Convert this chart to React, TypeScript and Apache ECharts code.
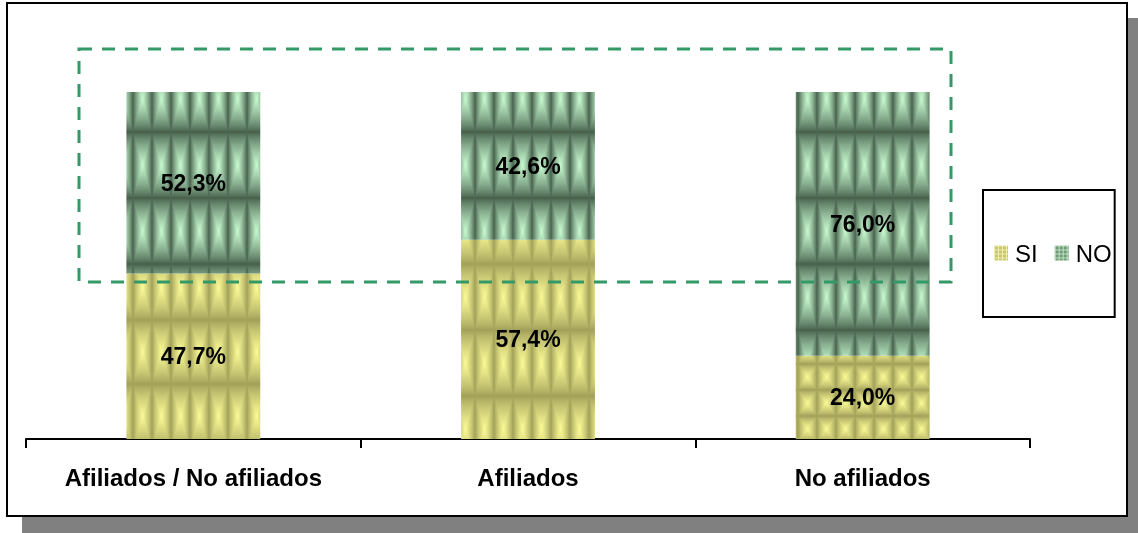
import React, { useEffect, useRef } from "react";
import * as echarts from "echarts";

const categories = ["Afiliados / No afiliados", "Afiliados", "No afiliados"];
const siValues = [47.7, 57.4, 24.0];
const noValues = [52.3, 42.6, 76.0];
const siCellHeights = [64, 66, 26];
const noCellHeights = [66, 66, 66];

type RGB = [number, number, number];

function makeBevel(w: number, h: number, dark: RGB, light: RGB): HTMLCanvasElement {
  const c = document.createElement("canvas");
  c.width = w;
  c.height = h;
  const ctx = c.getContext("2d")!;
  const img = ctx.createImageData(w, h);
  for (let y = 0; y < h; y++) {
    for (let x = 0; x < w; x++) {
      const dx = Math.min(x + 0.5, w - x - 0.5) / (w / 2);
      const dy = Math.min(y + 0.5, h - y - 0.5) / (h / 2);
      let t = Math.min(dx, dy);
      t = Math.pow(t, 0.8);
      const i = (y * w + x) * 4;
      img.data[i] = dark[0] + (light[0] - dark[0]) * t;
      img.data[i + 1] = dark[1] + (light[1] - dark[1]) * t;
      img.data[i + 2] = dark[2] + (light[2] - dark[2]) * t;
      img.data[i + 3] = 255;
    }
  }
  ctx.putImageData(img, 0, 0);
  return c;
}

function makeGrid(base: string, line: string): HTMLCanvasElement {
  const c = document.createElement("canvas");
  c.width = 4;
  c.height = 4;
  const ctx = c.getContext("2d")!;
  ctx.fillStyle = base;
  ctx.fillRect(0, 0, 4, 4);
  ctx.fillStyle = line;
  ctx.fillRect(0, 0, 4, 1);
  ctx.fillRect(0, 0, 1, 4);
  return c;
}

function pattern(canvas: HTMLCanvasElement) {
  return { image: canvas, repeat: "repeat", imageWidth: canvas.width, imageHeight: canvas.height } as any;
}

const SI_DARK: RGB = [160, 158, 88];
const SI_LIGHT: RGB = [250, 250, 150];
const NO_DARK: RGB = [68, 94, 74];
const NO_LIGHT: RGB = [200, 250, 208];
const FONT = "Liberation Sans, Arial, sans-serif";

export default function App() {
  const ref = useRef<HTMLDivElement>(null);
  useEffect(() => {
    if (!ref.current) return;
    const chart = echarts.init(ref.current, null, { renderer: "svg" });
    const fmt = (p: any) => Number(p.value).toFixed(1).replace(".", ",") + "%";
    const siLegend = pattern(makeGrid("#c8c66e", "#efeeb0"));
    const noLegend = pattern(makeGrid("#6e9a74", "#bfe2c6"));
    const labelStyle = {
      show: true,
      position: "inside",
      formatter: fmt,
      color: "#000",
      fontSize: 23,
      fontWeight: "bold",
      fontFamily: FONT,
    };
    chart.setOption({
      animation: false,
      graphic: [
        { type: "rect", z: -10, silent: true, shape: { x: 22, y: 18, width: 1116, height: 515 }, style: { fill: "#808080" } },
        { type: "rect", z: -9, silent: true, shape: { x: 7, y: 3, width: 1120, height: 513 }, style: { fill: "#fff", stroke: "#000", lineWidth: 2 } },
        {
          type: "rect",
          z: 100,
          silent: true,
          shape: { x: 79, y: 49, width: 872, height: 233 },
          style: { fill: "none", stroke: "#339966", lineWidth: 3, lineDash: [13, 10] },
        },
      ],
      legend: {
        left: 983,
        top: 190,
        orient: "horizontal",
        backgroundColor: "#fff",
        borderColor: "#000",
        borderWidth: 2,
        borderRadius: 0,
        padding: [51, 3, 52, 11],
        itemWidth: 14,
        itemHeight: 15,
        itemGap: 17,
        textStyle: { fontSize: 24, color: "#000", fontFamily: FONT, padding: [0, 0, 0, 2] },
        data: [
          { name: "SI", icon: "rect", itemStyle: { color: siLegend } },
          { name: "NO", icon: "rect", itemStyle: { color: noLegend } },
        ],
      },
      grid: { left: 26, right: 108, top: 92, bottom: 94 },
      xAxis: {
        type: "category",
        data: categories,
        axisLine: { lineStyle: { color: "#000", width: 2 } },
        axisTick: { show: true, length: 9, lineStyle: { color: "#000", width: 2 } },
        axisLabel: {
          margin: 26,
          fontSize: 24,
          fontWeight: "bold",
          color: "#000",
          fontFamily: FONT,
        },
      },
      yAxis: { type: "value", min: 0, max: 100, show: false, splitLine: { show: false } },
      series: [
        {
          name: "SI",
          type: "bar",
          stack: "total",
          barCategoryGap: "60%",
          itemStyle: { color: siLegend },
          label: labelStyle,
          data: siValues.map((v, i) => ({
            value: v,
            itemStyle: { color: pattern(makeBevel(19, siCellHeights[i], SI_DARK, SI_LIGHT)) },
          })),
        },
        {
          name: "NO",
          type: "bar",
          stack: "total",
          barCategoryGap: "60%",
          itemStyle: { color: noLegend },
          label: labelStyle,
          data: noValues.map((v, i) => ({
            value: v,
            itemStyle: { color: pattern(makeBevel(19, noCellHeights[i], NO_DARK, NO_LIGHT)) },
          })),
        },
      ],
    });
    return () => chart.dispose();
  }, []);
  return <div ref={ref} style={{ position: "fixed", left: 0, top: 0, width: 1138, height: 533 }} />;
}
